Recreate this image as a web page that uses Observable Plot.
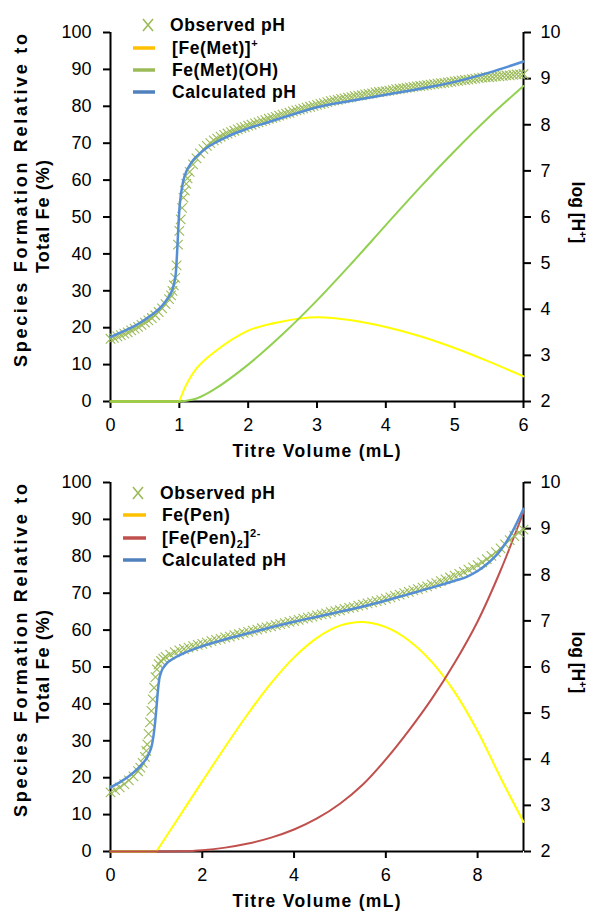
<!DOCTYPE html>
<html><head><meta charset="utf-8">
<script src="https://cdn.jsdelivr.net/npm/d3@7"></script>
<script src="https://cdn.jsdelivr.net/npm/@observablehq/plot@0.6"></script>
<style>body{margin:0;background:#fff;} #chart{width:589px;} svg{display:block;}</style>
</head><body><div id="chart"></div>
<script>
// ---------- DATA ----------
const leftTicks = [0,10,20,30,40,50,60,70,80,90,100];
const rightTicks = [2,3,4,5,6,7,8,9,10];
const metXTicks = [0,1,2,3,4,5,6];
const penXTicks = [0,2,4,6,8];

// Panel 1: methionine
const metSpeciesVol = [0, 1, 1.1, 1.25, 1.5, 2, 2.5, 3, 3.5, 4, 4.5, 5, 5.5, 6];
const metFeMet      = [0, 0, 4.5, 9, 13.3, 19.2, 21.7, 22.8, 22.0, 20.2, 17.7, 14.5, 10.8, 6.8];
const metFeMetOH    = [0, 0, 0.2, 0.8, 3.2, 10, 18.2, 27.4, 37.4, 47.8, 58.1, 67.9, 77.1, 85.5];
const metCalcPH = [[0,3.40],[0.2,3.53],[0.4,3.68],[0.6,3.88],[0.7,4.00],[0.8,4.17],[0.85,4.28],[0.9,4.43],[0.93,4.60],[0.95,4.80],[0.97,5.30],[0.99,5.90],[1.0,6.15],[1.02,6.45],[1.04,6.65],[1.06,6.80],[1.1,6.98],[1.15,7.12],[1.2,7.23],[1.3,7.38],[1.4,7.50],[1.6,7.67],[1.8,7.81],[2.0,7.92],[2.3,8.06],[2.6,8.20],[3.0,8.38],[3.5,8.52],[4.0,8.65],[4.5,8.78],[5.0,8.93],[5.5,9.13],[6.0,9.37]];
const metObsPH = [[0,3.36],[0.05,3.38],[0.1,3.41],[0.15,3.44],[0.2,3.47],[0.25,3.50],[0.3,3.54],[0.35,3.58],[0.4,3.62],[0.45,3.66],[0.5,3.71],[0.55,3.76],[0.6,3.81],[0.65,3.87],[0.7,3.94],[0.75,4.02],[0.8,4.11],[0.85,4.22],[0.88,4.30],[0.9,4.40],[0.92,4.52],[0.94,4.68],[0.96,4.95],[0.98,5.40],[1.0,5.70],[1.02,5.95],[1.04,6.20],[1.06,6.42],[1.08,6.57],[1.1,6.72],[1.12,6.84],[1.15,6.98],[1.2,7.14],[1.25,7.27],[1.3,7.38],[1.35,7.47],[1.4,7.54],[1.45,7.60],[1.5,7.66],
[1.55,7.70],[1.6,7.74],[1.65,7.78],[1.7,7.81],[1.75,7.84],[1.8,7.87],[1.85,7.90],[1.9,7.93],[1.95,7.95],[2.0,7.98],[2.05,8.00],[2.1,8.03],[2.15,8.05],[2.2,8.08],[2.25,8.10],[2.3,8.13],[2.35,8.15],[2.4,8.17],[2.45,8.20],[2.5,8.22],[2.55,8.24],[2.6,8.26],[2.65,8.29],[2.7,8.31],[2.75,8.33],[2.8,8.35],[2.85,8.37],[2.9,8.39],[2.95,8.41],[3.0,8.43],[3.05,8.45],[3.1,8.47],[3.15,8.49],[3.2,8.51],[3.25,8.53],[3.3,8.54],[3.35,8.56],[3.4,8.57],[3.45,8.59],[3.5,8.60],[3.55,8.62],[3.6,8.63],[3.65,8.64],[3.7,8.66],[3.75,8.67],[3.8,8.68],[3.85,8.70],[3.9,8.71],[3.95,8.72],[4.0,8.73],[4.05,8.74],[4.1,8.75],[4.15,8.77],[4.2,8.78],[4.25,8.79],[4.3,8.80],[4.35,8.81],[4.4,8.82],[4.45,8.83],[4.5,8.84],[4.55,8.85],[4.6,8.86],[4.65,8.87],[4.7,8.88],[4.75,8.89],[4.8,8.90],[4.85,8.91],[4.9,8.92],[4.95,8.93],[5.0,8.94],[5.05,8.95],[5.1,8.96],[5.15,8.97],[5.2,8.98],[5.25,8.99],[5.3,9.00],[5.35,9.01],[5.4,9.02],[5.45,9.03],[5.5,9.03],[5.55,9.04],[5.6,9.05],[5.65,9.05],[5.7,9.06],[5.75,9.07],[5.8,9.07],[5.85,9.08],[5.9,9.09],[5.95,9.09],[6.0,9.10]];

// Panel 2: penicillamine
const penSpeciesVol = [0, 1, 1.5, 2, 2.5, 3, 3.5, 4, 4.5, 5, 5.5, 6, 6.5, 7, 7.5, 8, 8.5, 9];
const penFePen      = [0, 0, 9.5, 19, 28.4, 37.4, 45.6, 52.6, 57.9, 61.2, 62.2, 60.8, 57.2, 51.4, 43.2, 32.6, 20.0, 8.0];
const penFePen2     = [0, 0, 0.05, 0.35, 1.05, 2.15, 3.75, 5.95, 8.95, 12.95, 18.15, 24.95, 32.75, 41.35, 51.15, 62.35, 76.15, 92];
const penCalcPH = [[0,3.39],[0.2,3.50],[0.4,3.63],[0.6,3.80],[0.7,3.91],[0.8,4.04],[0.85,4.15],[0.9,4.30],[0.94,4.53],[0.97,4.78],[1.0,5.10],[1.03,5.45],[1.06,5.72],[1.1,5.88],[1.2,6.05],[1.4,6.20],[1.6,6.30],[2.0,6.45],[2.5,6.60],[3.0,6.73],[3.5,6.86],[4.0,6.98],[4.5,7.09],[5.0,7.20],[5.5,7.31],[6.0,7.44],[6.5,7.58],[7.0,7.72],[7.5,7.87],[7.75,7.95],[8.0,8.08],[8.25,8.27],[8.5,8.53],[8.75,8.92],[9.0,9.43]];
const penObsPH = [[0,3.28],[0.1,3.33],[0.2,3.39],[0.3,3.46],[0.4,3.54],[0.5,3.63],[0.6,3.74],[0.65,3.82],[0.7,3.92],[0.75,4.05],[0.78,4.18],[0.8,4.32],[0.83,4.55],[0.86,4.80],[0.89,5.05],[0.92,5.30],[0.95,5.55],[0.98,5.78],[1.01,5.95],[1.05,6.06],[1.1,6.13],[1.15,6.18],[1.2,6.22],[1.3,6.27],[1.4,6.32],[1.5,6.36],[1.6,6.39],[1.7,6.42],[1.8,6.45],[1.9,6.48],[2.0,6.50],
[2.1,6.53],[2.2,6.56],[2.3,6.59],[2.4,6.61],[2.5,6.64],[2.6,6.66],[2.7,6.69],[2.8,6.71],[2.9,6.74],[3.0,6.76],[3.1,6.79],[3.2,6.81],[3.3,6.84],[3.4,6.86],[3.5,6.88],[3.6,6.91],[3.7,6.93],[3.8,6.95],[3.9,6.98],[4.0,7.00],[4.1,7.02],[4.2,7.05],[4.3,7.07],[4.4,7.09],[4.5,7.12],[4.6,7.14],[4.7,7.16],[4.8,7.19],[4.9,7.21],[5.0,7.23],[5.1,7.26],[5.2,7.28],[5.3,7.30],[5.4,7.33],[5.5,7.35],[5.6,7.38],[5.7,7.40],[5.8,7.43],[5.9,7.45],[6.0,7.48],[6.1,7.51],[6.2,7.54],[6.3,7.57],[6.4,7.60],[6.5,7.63],[6.6,7.66],[6.7,7.69],[6.8,7.72],[6.9,7.75],[7.0,7.79],[7.1,7.82],[7.2,7.86],[7.3,7.90],[7.4,7.94],[7.5,7.98],[7.6,8.02],[7.7,8.06],[7.8,8.11],[7.9,8.16],[8.0,8.21],[8.1,8.27],[8.2,8.34],[8.3,8.41],[8.4,8.49],[8.5,8.57],[8.6,8.66],[8.7,8.75],[8.8,8.84],[8.9,8.92],[9.0,8.98]];

const xTitle = "Titre Volume (mL)";
const yTitle1 = "Species Formation Relative to";
const yTitle2 = "Total Fe (%)";
const metLegend = [
  {kind:"x", color:"#9BBB59", parts:[["Observed pH"]]},
  {kind:"line", color:"#FFC000", parts:[["[Fe(Met)]"],["+","sup"]]},
  {kind:"line", color:"#9BBB59", parts:[["Fe(Met)(OH)"]]},
  {kind:"line", color:"#4F81BD", parts:[["Calculated pH"]]}
];
const penLegend = [
  {kind:"x", color:"#9BBB59", parts:[["Observed pH"]]},
  {kind:"line", color:"#FFC000", parts:[["Fe(Pen)"]]},
  {kind:"line", color:"#C0504D", parts:[["[Fe(Pen)"],["2","sub"],["]"],["2-","sup"]]},
  {kind:"line", color:"#4F81BD", parts:[["Calculated pH"]]}
];

// ---------- DRAW ----------
const FONT = "Arial, 'Liberation Sans', sans-serif";
const toY = ph => (ph - 2) * 12.5;
const zip = (xs, ys) => xs.map((x, i) => ({x, y: ys[i]}));

function addParts(sel, parts) {
  let shift = 0;
  for (const [t, kind] of parts) {
    const target = kind === "sup" ? -7 : kind === "sub" ? 4 : 0;
    const ts = sel.append("tspan").text(t).attr("dy", target - shift);
    if (kind) ts.attr("font-size", 11);
    shift = target;
  }
}

function speciesMarks(s) {
  const flat = s.data.filter(d => d.x <= 1);
  const rise = s.data.filter(d => d.x >= 1);
  return [
    Plot.line(flat, {x: "x", y: "y", stroke: s.color, strokeWidth: 2}),
    Plot.line(rise, {x: "x", y: "y", stroke: s.color, strokeWidth: 2, curve: "catmull-rom"})
  ];
}

function panel(o) {
  const W = 589;
  const plotTop = o.mt, plotBottom = o.height - o.mb;
  const svg = Plot.plot({
    width: W, height: o.height,
    marginLeft: 110, marginRight: 66, marginTop: o.mt, marginBottom: o.mb,
    x: {domain: [0, o.xMax]},
    y: {domain: [0, 100]},
    style: `font-family: ${FONT}; font-size: 18px; color: black; background: white; overflow: visible;`,
    marks: [
      Plot.ruleX([0], {strokeWidth: 2}),
      Plot.ruleX([o.xMax], {strokeWidth: 2}),
      Plot.ruleY([0], {strokeWidth: 2}),
      Plot.axisY(leftTicks, {anchor: "left", tickSize: 7, tickPadding: 12, strokeWidth: 2, label: null}),
      Plot.axisY(rightTicks.map(toY), {anchor: "right", tickSize: 7, tickPadding: 10, strokeWidth: 2, label: null,
        tickFormat: v => String(Math.round(v / 12.5 + 2))}),
      Plot.axisX(o.xTicks, {anchor: "bottom", tickSize: 7, tickPadding: 10, strokeWidth: 2, label: null}),
      ...o.species.flatMap(speciesMarks),
      Plot.dot(o.obs, {x: d => d[0], y: d => toY(d[1]), symbol: "times", r: 4.4, stroke: "#9BBB59", strokeWidth: 1.1}),
      Plot.line(o.calc, {x: d => d[0], y: d => toY(d[1]), stroke: "#558ED5", strokeWidth: 2.5, curve: "monotone-x"})
    ]
  });
  const g = d3.select(svg).append("g").attr("font-family", FONT).attr("font-weight", "bold")
    .attr("fill", "black").attr("text-anchor", "start");
  const mid = (plotTop + plotBottom) / 2;
  // x title
  g.append("text").attr("x", 316.5).attr("y", plotBottom + 56).attr("text-anchor", "middle")
    .attr("font-size", 17.5).attr("textLength", 168).attr("lengthAdjust", "spacing").text(xTitle);
  // left title
  g.append("text").attr("transform", `translate(27,${mid - 16}) rotate(-90)`).attr("text-anchor", "middle")
    .attr("font-size", 18).attr("textLength", 333).attr("lengthAdjust", "spacing").text(yTitle1);
  g.append("text").attr("transform", `translate(48.5,${mid}) rotate(-90)`).attr("text-anchor", "middle")
    .attr("font-size", 18).attr("textLength", 113).attr("lengthAdjust", "spacing").text(yTitle2);
  // right title
  const rt = g.append("text").attr("transform", `translate(572,${mid - 4}) rotate(90)`).attr("text-anchor", "middle").attr("font-size", 17.5);
  addParts(rt, [["log [H"], ["+", "sup"], ["]"]]);
  // legend
  o.legend.forEach((item, i) => {
    const cy = o.legY[i];
    if (item.kind === "x") {
      g.append("path").attr("d", `M${o.legMark - 5},${cy - 6}L${o.legMark + 5},${cy + 6}M${o.legMark - 5},${cy + 6}L${o.legMark + 5},${cy - 6}`)
        .attr("stroke", item.color).attr("stroke-width", 1.6).attr("fill", "none");
    } else {
      g.append("line").attr("x1", o.legSw[0]).attr("x2", o.legSw[1]).attr("y1", cy).attr("y2", cy)
        .attr("stroke", item.color).attr("stroke-width", 3.5);
    }
    const t = g.append("text").attr("x", i === 0 ? o.legText0 : o.legText).attr("y", cy + 6)
      .attr("font-size", 17.5).attr("letter-spacing", "0.6px").attr("text-anchor", "start");
    addParts(t, item.parts);
  });
  return svg;
}

const chart = document.getElementById("chart");
chart.appendChild(panel({
  height: 462, mt: 32, mb: 61, xMax: 6, xTicks: metXTicks,
  species: [
    {data: zip(metSpeciesVol, metFeMet), color: "#FFFF00"},
    {data: zip(metSpeciesVol, metFeMetOH), color: "#92D050"}
  ],
  obs: metObsPH, calc: metCalcPH, legend: metLegend,
  legY: [25, 48, 70, 92], legMark: 148, legSw: [133, 155], legText0: 170, legText: 172
}));
chart.appendChild(panel({
  height: 449, mt: 20, mb: 60, xMax: 9, xTicks: penXTicks,
  species: [
    {data: zip(penSpeciesVol, penFePen), color: "#FFFF00"},
    {data: zip(penSpeciesVol, penFePen2), color: "#C0504D"}
  ],
  obs: penObsPH, calc: penCalcPH, legend: penLegend,
  legY: [31, 53, 76, 98], legMark: 138, legSw: [123, 146], legText0: 160, legText: 162
}));
</script></body></html>
